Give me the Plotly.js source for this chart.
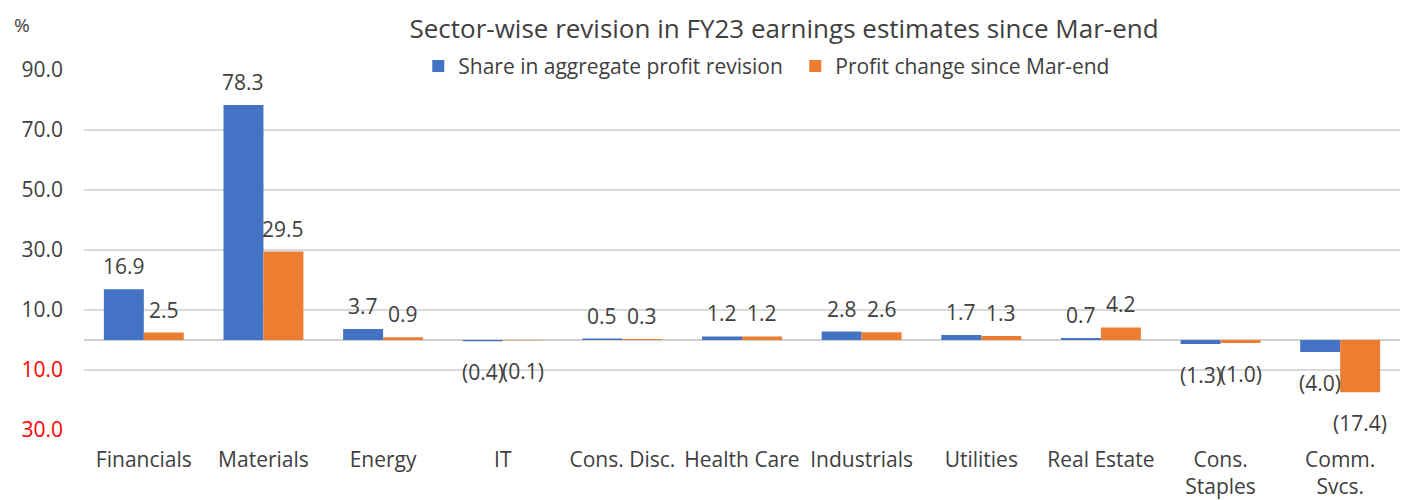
<!DOCTYPE html>
<html>
<head>
<meta charset="utf-8">
<script src="https://cdn.plot.ly/plotly-3.0.1.min.js"></script>
<style>html,body{margin:0;padding:0;background:#fff;}#chart{width:1414px;height:500px;}</style>
</head>
<body>
<div id="chart"></div>
<script>
const categories = ["Financials", "Materials", "Energy", "IT", "Cons. Disc.", "Health Care", "Industrials", "Utilities", "Real Estate", "Cons.<br>Staples", "Comm.<br>Svcs."];
const shareRevision = [16.9, 78.3, 3.7, -0.4, 0.5, 1.2, 2.8, 1.7, 0.7, -1.3, -4.0];
const profitChange = [2.5, 29.5, 0.9, -0.1, 0.3, 1.2, 2.6, 1.3, 4.2, -1.0, -17.4];
const seriesNames = ["Share in aggregate profit revision", "Profit change since Mar-end"];
const yTickVals = [90, 70, 50, 30, 10, -10, -30];

const FONT = "'Open Sans', 'Noto Sans', sans-serif";
const TXT = "#404040";
const FS = 21;
const colors = ["#4472C4", "#ED7D31"];
const bargap = 0.332;
const barW = (1 - bargap) / 2;

function fmt(v) {
  const s = Math.abs(v).toFixed(1);
  return v < 0 ? "(" + s + ")" : s;
}
function tickFmt(v) {
  const s = Math.abs(v).toFixed(1);
  return v < 0 ? "<span style='color:#FF0000'>" + s + "</span>" : s;
}

const traces = [shareRevision, profitChange].map((vals, k) => ({
  type: "bar",
  x: categories,
  y: vals,
  name: seriesNames[k],
  marker: {color: colors[k]},
  hoverinfo: "x+y"
}));

const annotations = [];
[shareRevision, profitChange].forEach((vals, k) => {
  vals.forEach((v, i) => {
    annotations.push({
      xref: "x", yref: "y",
      x: i + (k === 0 ? -barW / 2 : barW / 2),
      y: v,
      text: fmt(v),
      showarrow: false,
      yanchor: v >= 0 ? "bottom" : "top",
      yshift: v >= 0 ? 7 : -15,
      font: {family: FONT, size: FS, color: TXT}
    });
  });
});
annotations.push({
  xref: "paper", yref: "paper", x: -0.055, y: 1.125, xanchor: "left", yanchor: "middle",
  text: "%", showarrow: false, font: {family: FONT, size: 19, color: TXT}
});

const layout = {
  width: 1414, height: 500,
  margin: {l: 84, r: 14, t: 70, b: 70},
  paper_bgcolor: "#fff", plot_bgcolor: "#fff",
  font: {family: FONT, color: TXT, size: FS},
  title: {
    text: "Sector-wise revision in FY23 earnings estimates since Mar-end",
    font: {family: FONT, size: 26, color: TXT},
    x: 0.5545, xanchor: "center", xref: "container",
    y: 0.942, yanchor: "middle", yref: "container"
  },
  barmode: "group",
  bargap: bargap,
  bargroupgap: 0,
  showlegend: true,
  legend: {
    orientation: "h", x: 0.254, xanchor: "left", y: 1.01, yanchor: "middle",
    font: {family: FONT, size: FS, color: TXT},
    bgcolor: "rgba(0,0,0,0)", itemwidth: 30, traceorder: "normal",
    entrywidth: 332, entrywidthmode: "pixels"
  },
  xaxis: {
    type: "category",
    showgrid: false, zeroline: false, showline: false,
    ticks: "", tickfont: {family: FONT, size: FS, color: TXT},
    ticklabelstandoff: 15
  },
  yaxis: {
    range: [-30, 90],
    tickvals: yTickVals,
    ticktext: yTickVals.map(tickFmt),
    showgrid: true, gridcolor: "#d9d9d9", gridwidth: 1.5,
    zeroline: true, zerolinecolor: "#d0d0d0", zerolinewidth: 2,
    showline: false, ticks: "",
    tickfont: {family: FONT, size: FS, color: TXT},
    ticklabelstandoff: 20
  },
  annotations: annotations
};

Plotly.newPlot("chart", traces, layout, {displayModeBar: false, staticPlot: true});
</script>
</body>
</html>
